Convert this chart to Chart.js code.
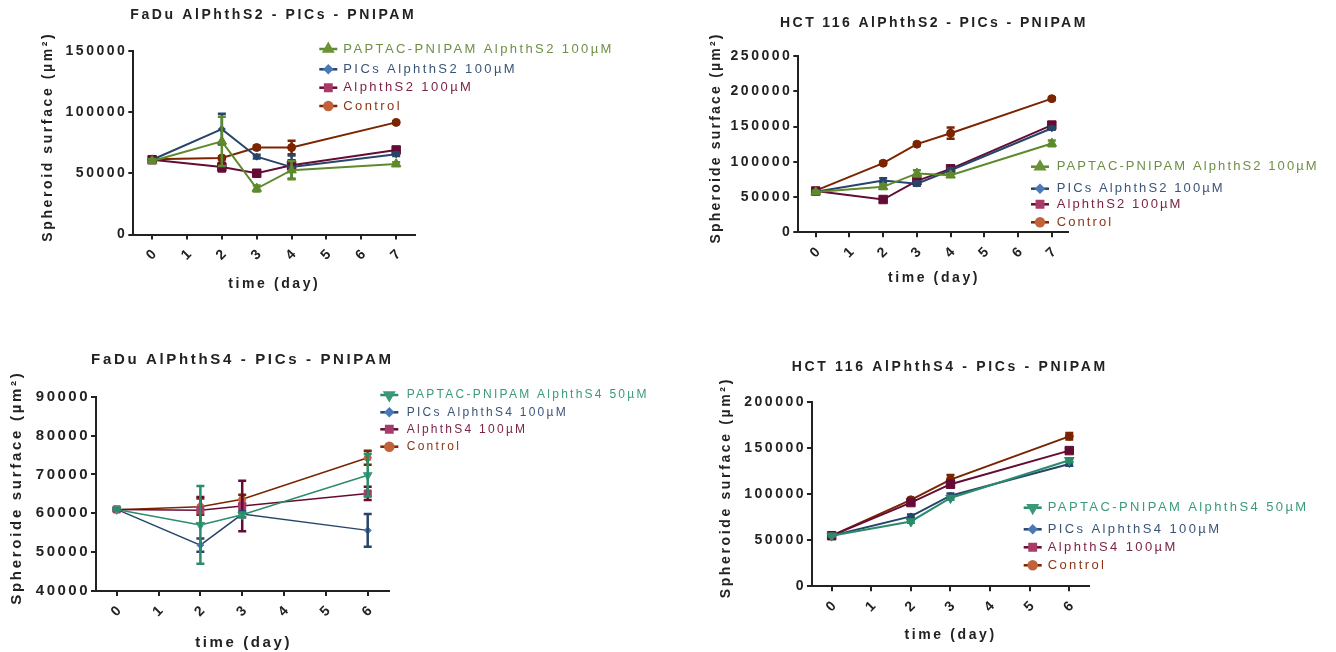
<!DOCTYPE html>
<html>
<head>
<meta charset="utf-8">
<script src="https://cdn.jsdelivr.net/npm/chart.js@4.4.1/dist/chart.umd.min.js"></script>
<style>
  body { margin: 0; background: #fff; width: 1336px; height: 652px; overflow: hidden; position: relative; }
  canvas { position: absolute; }
</style>
</head>
<body>
<canvas id="c1" width="668" height="326" style="left:0;top:0"></canvas>
<canvas id="c2" width="668" height="326" style="left:668px;top:0"></canvas>
<canvas id="c3" width="668" height="326" style="left:0;top:326px"></canvas>
<canvas id="c4" width="668" height="326" style="left:668px;top:326px"></canvas>
<script>
// jours mesurés
const daysS2 = [0, 2, 3, 4, 7];
const daysS4 = [0, 2, 3, 6];
const tickDaysS2 = [0, 1, 2, 3, 4, 5, 6, 7];
const tickDaysS4 = [0, 1, 2, 3, 4, 5, 6];

const namesS2 = ['PAPTAC-PNIPAM AlphthS2 100µM', 'PICs AlphthS2 100µM', 'AlphthS2 100µM', 'Control'];
const namesS4 = ['PAPTAC-PNIPAM AlphthS4 50µM', 'PICs AlphthS4 100µM', 'AlphthS4 100µM', 'Control'];

const titles = ['FaDu AlPhthS2 - PICs - PNIPAM', 'HCT 116 AlPhthS2 - PICs - PNIPAM',
                'FaDu AlPhthS4 - PICs - PNIPAM', 'HCT 116 AlPhthS4 - PICs - PNIPAM'];
const yTitles = ['Spheroid surface (µm²)', 'Spheroide surface (µm²)', 'Spheroide surface (µm²)', 'Spheroide surface (µm²)'];
const xTitle = 'time (day)';

// FaDu AlPhthS2
const faduS2Paptac = [60000, 76000, 37500, 52500, 57500];
const faduS2PaptacErr = [1500, 20000, 2500, 7500, 1500];
const faduS2Pics = [61000, 86000, 63500, 55000, 65500];
const faduS2PicsErr = [1000, 12500, 1500, 9500, 1500];
const faduS2Alph = [61000, 55000, 50000, 56500, 69000];
const faduS2AlphErr = [1000, 3500, 1500, 4000, 1500];
const faduS2Ctrl = [61500, 62500, 71000, 71000, 91500];
const faduS2CtrlErr = [2000, 1000, 1500, 5500, 1000];

// HCT 116 AlPhthS2
const hctS2Paptac = [57000, 64500, 83500, 81000, 126000];
const hctS2PaptacErr = [2000, 3000, 4500, 2500, 4000];
const hctS2Pics = [57500, 73500, 69000, 88000, 147500];
const hctS2PicsErr = [1500, 3000, 3000, 3000, 2000];
const hctS2Alph = [58500, 46500, 73000, 90000, 152000];
const hctS2AlphErr = [2000, 3000, 3500, 5000, 3000];
const hctS2Ctrl = [59000, 98000, 125000, 140500, 189500];
const hctS2CtrlErr = [1500, 2000, 2000, 8000, 2000];

// FaDu AlPhthS4
const faduS4Paptac = [61000, 57000, 59600, 69800];
const faduS4PaptacErr = [300, 10000, 600, 5500];
const faduS4Pics = [61000, 51800, 59800, 55600];
const faduS4PicsErr = [300, 1700, 800, 4200];
const faduS4Alph = [61000, 60800, 61900, 65100];
const faduS4AlphErr = [300, 3400, 6500, 1700];
const faduS4Ctrl = [60900, 61700, 63600, 74300];
const faduS4CtrlErr = [300, 2100, 1200, 1800];

// HCT 116 AlPhthS4
const hctS4Paptac = [55000, 70500, 96000, 137000];
const hctS4PaptacErr = [1000, 1500, 2000, 2000];
const hctS4Pics = [55000, 76000, 98500, 133000];
const hctS4PicsErr = [1000, 2000, 2500, 2000];
const hctS4Alph = [55000, 91000, 111000, 147500];
const hctS4AlphErr = [1000, 2000, 2500, 2000];
const hctS4Ctrl = [55000, 94000, 116000, 163000];
const hctS4CtrlErr = [1000, 2000, 5000, 3500];

const FONT = '"Liberation Sans", Arial, sans-serif';
const AXIS = '#222222';

// styles des séries : PAPTAC, PICs, AlphthS, Control
const lineS2 = ['#5e8a2c', '#27456b', '#640c34', '#7a2400'];
const lineS4 = ['#2b8c6c', '#27456b', '#640c34', '#7a2400'];
const markS2 = ['#6a9236', '#4a7ab5', '#a83c68', '#c0623a'];
const markS4 = ['#3a9a78', '#4a7ab5', '#a83c68', '#c0623a'];
const textS2 = ['#6e8f45', '#3a5478', '#7b2347', '#8b3516'];
const textS4 = ['#3a9a7a', '#3a5478', '#7b2347', '#8b3516'];

function buildSets(days, vals, errs, names, lines, marks, flip, lw, light) {
  const styles = ['triangle', 'rectRot', 'rect', 'circle'];
  const radii = light ? [5, 3.5, 5, 3.5] : [5.5, 3.5, 6, 4];
  return vals.map((v, k) => ({
    label: names[k],
    data: days.map((d, i) => ({ x: d, y: v[i] })),
    errors: errs[k],
    borderColor: lines[k],
    backgroundColor: lines[k],
    markColor: marks[k],
    borderWidth: lw,
    pointStyle: styles[k],
    pointRotation: (k === 0 && flip) ? 180 : 0,
    pointRadius: radii[k],
    pointBackgroundColor: light ? marks[k] : lines[k],
    pointBorderColor: light ? marks[k] : lines[k],
    pointBorderWidth: 1,
    tension: 0
  }));
}

// espacement des lettres sur le canvas
const spacingPlugin = {
  id: 'spacing',
  beforeUpdate(chart) { chart.ctx.letterSpacing = '2.5px'; },
  beforeDraw(chart) { chart.ctx.letterSpacing = '2.5px'; }
};

const errorBars = {
  id: 'errorBars',
  afterDatasetDraw(chart, args) {
    const ds = chart.data.datasets[args.index];
    if (!ds.errors) return;
    const ctx = chart.ctx, ys = chart.scales.y;
    ctx.save();
    ctx.strokeStyle = ds.borderColor;
    ctx.lineWidth = 2.5;
    ds.data.forEach((pt, i) => {
      const e = ds.errors[i];
      if (!e) return;
      const x = args.meta.data[i].x;
      const t = ys.getPixelForValue(pt.y + e), b = ys.getPixelForValue(pt.y - e);
      ctx.beginPath();
      ctx.moveTo(x, t); ctx.lineTo(x, b);
      ctx.moveTo(x - 4, t); ctx.lineTo(x + 4, t);
      ctx.moveTo(x - 4, b); ctx.lineTo(x + 4, b);
      ctx.stroke();
    });
    ctx.restore();
  }
};

function textPlugin(p) {
  return {
    id: 'panelText',
    afterDraw(chart) {
      const ctx = chart.ctx;
      ctx.save();
      ctx.textBaseline = 'middle';
      ctx.textAlign = 'center';
      ctx.fillStyle = AXIS;
      // titre
      ctx.letterSpacing = p.titleSp + 'px';
      ctx.font = 'bold ' + p.fs + 'px ' + FONT;
      ctx.fillText(p.title, p.titlePos[0] + p.titleSp / 2, p.titlePos[1]);
      // axe x
      ctx.letterSpacing = '2.6px';
      ctx.fillText(xTitle, p.xTitlePos[0] + 1.3, p.xTitlePos[1]);
      // axe y
      ctx.letterSpacing = p.yTitleSp + 'px';
      ctx.translate(p.yTitlePos[0], p.yTitlePos[1]);
      ctx.rotate(-Math.PI / 2);
      ctx.fillText(p.yTitle, p.yTitleSp / 2, 0);
      ctx.restore();

      // légende
      ctx.save();
      ctx.textBaseline = 'middle';
      ctx.textAlign = 'left';
      ctx.letterSpacing = p.legSp + 'px';
      ctx.font = p.legSize + 'px ' + FONT;
      const legR = { triangle: 5, rectRot: 3.5, rect: 4.5, circle: 4 };
      chart.data.datasets.forEach((ds, k) => {
        const y = p.legY[k], x = p.legX;
        ctx.strokeStyle = ds.borderColor;
        ctx.lineWidth = 2.5;
        ctx.beginPath(); ctx.moveTo(x - 9, y); ctx.lineTo(x + 9, y); ctx.stroke();
        ctx.fillStyle = ds.markColor;
        ctx.strokeStyle = ds.markColor;
        Chart.helpers.drawPoint(ctx, { pointStyle: ds.pointStyle, rotation: ds.pointRotation,
          radius: legR[ds.pointStyle], borderWidth: 1 }, x, y);
        ctx.fillStyle = p.legColors[k];
        ctx.fillText(ds.label, p.legTextX, y);
      });
      ctx.restore();
    }
  };
}

function makePanel(id, p) {
  const tickFont = { family: FONT, size: p.fs, weight: 'bold' };
  new Chart(document.getElementById(id), {
    type: 'line',
    data: { datasets: p.sets },
    options: {
      responsive: false,
      animation: false,
      events: [],
      layout: {
        padding: { left: p.area.left - 80, top: p.area.top, right: 668 - p.area.right, bottom: 326 - p.area.bottom - 60 }
      },
      plugins: { legend: { display: false }, title: { display: false }, tooltip: { enabled: false } },
      scales: {
        x: {
          type: 'linear', min: p.xMin, max: p.xMax,
          afterBuildTicks: s => { s.ticks = p.xTicks.map(v => ({ value: v })); },
          afterFit: s => { s.height = 60; },
          ticks: { minRotation: 45, maxRotation: 45, labelOffset: 4, font: { family: FONT, size: 14, weight: 'bold' }, color: AXIS, padding: 5 },
          grid: { drawOnChartArea: false, drawTicks: true, tickLength: 5, color: AXIS, lineWidth: 2 },
          border: { display: true, color: AXIS, width: 2 }
        },
        y: {
          min: p.yMin, max: p.yMax,
          afterBuildTicks: s => {
            const t = [];
            for (let v = p.yMin; v <= p.yMax; v += p.yStep) t.push({ value: v });
            s.ticks = t;
          },
          afterFit: s => { s.width = 80; },
          ticks: { font: tickFont, color: AXIS, padding: 1, callback: v => String(v) },
          grid: { drawOnChartArea: false, drawTicks: true, tickLength: 5, color: AXIS, lineWidth: 2 },
          border: { display: true, color: AXIS, width: 2 }
        }
      }
    },
    plugins: [spacingPlugin, errorBars, textPlugin(p)]
  });
}

makePanel('c1', {
  sets: buildSets(daysS2, [faduS2Paptac, faduS2Pics, faduS2Alph, faduS2Ctrl],
    [faduS2PaptacErr, faduS2PicsErr, faduS2AlphErr, faduS2CtrlErr], namesS2, lineS2, markS2, false, 2, false),
  area: { left: 133.3, right: 415, top: 50.7, bottom: 234.5 },
  xMin: -0.54, xMax: 7.54, xTicks: tickDaysS2, yMin: 0, yMax: 150000, yStep: 50000, fs: 14,
  title: titles[0], titlePos: [272, 15.3], titleSp: 2.6,
  yTitle: yTitles[0], yTitlePos: [48.3, 138], yTitleSp: 2.6, xTitlePos: [273, 284],
  legX: 328.3, legTextX: 343.3, legY: [49, 69.3, 87.7, 106], legSize: 13, legSp: 2.4, legColors: textS2
});

makePanel('c2', {
  sets: buildSets(daysS2, [hctS2Paptac, hctS2Pics, hctS2Alph, hctS2Ctrl],
    [hctS2PaptacErr, hctS2PicsErr, hctS2AlphErr, hctS2CtrlErr], namesS2, lineS2, markS2, false, 2, false),
  area: { left: 130.3, right: 400, top: 56, bottom: 232.3 },
  xMin: -0.516, xMax: 7.48, xTicks: tickDaysS2, yMin: 0, yMax: 250000, yStep: 50000, fs: 14,
  title: titles[1], titlePos: [264.7, 22.7], titleSp: 2.4,
  yTitle: yTitles[1], yTitlePos: [48, 139], yTitleSp: 2.2, xTitlePos: [264.7, 278.3],
  legX: 372, legTextX: 388.7, legY: [166.7, 188.7, 204.3, 222.3], legSize: 13, legSp: 2.1, legColors: textS2
});

makePanel('c3', {
  sets: buildSets(daysS4, [faduS4Paptac, faduS4Pics, faduS4Alph, faduS4Ctrl],
    [faduS4PaptacErr, faduS4PicsErr, faduS4AlphErr, faduS4CtrlErr], namesS4, lineS4, markS4, true, 1.5, true),
  area: { left: 96, right: 389.3, top: 70.7, bottom: 265 },
  xMin: -0.495, xMax: 6.516, xTicks: tickDaysS4, yMin: 40000, yMax: 90000, yStep: 10000, fs: 15,
  title: titles[2], titlePos: [241, 34], titleSp: 2.65,
  yTitle: yTitles[2], yTitlePos: [17.3, 163], yTitleSp: 2.7, xTitlePos: [242.3, 316.7],
  legX: 389.3, legTextX: 406.7, legY: [69, 86.3, 103.3, 120.7], legSize: 12, legSp: 2.26, legColors: textS4
});

makePanel('c4', {
  sets: buildSets(daysS4, [hctS4Paptac, hctS4Pics, hctS4Alph, hctS4Ctrl],
    [hctS4PaptacErr, hctS4PicsErr, hctS4AlphErr, hctS4CtrlErr], namesS4, lineS4, markS4, true, 2, false),
  area: { left: 144, right: 421.3, top: 76.3, bottom: 260.3 },
  xMin: -0.497, xMax: 6.505, xTicks: tickDaysS4, yMin: 0, yMax: 200000, yStep: 50000, fs: 14,
  title: titles[3], titlePos: [280.5, 41.3], titleSp: 2.67,
  yTitle: yTitles[3], yTitlePos: [57.7, 163], yTitleSp: 2.64, xTitlePos: [281.3, 309],
  legX: 364.7, legTextX: 379.7, legY: [181.7, 203.3, 221.3, 239.3], legSize: 13, legSp: 2.4, legColors: textS4
});
</script>
</body>
</html>
